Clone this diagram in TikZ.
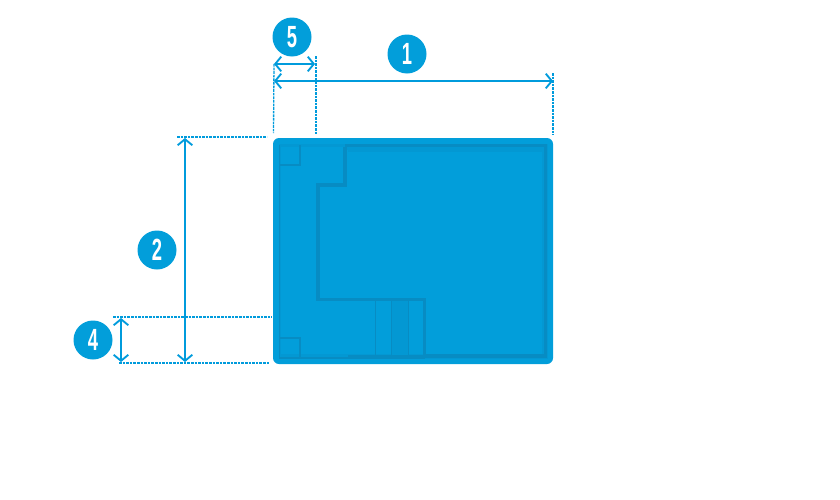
\documentclass[tikz,border=0pt]{standalone}
\usepackage{fontspec}
\setmainfont{Liberation Sans}
\usetikzlibrary{arrows.meta}
\definecolor{poolblue}{HTML}{029EDA}
\definecolor{pooldark}{HTML}{078CC3}
\definecolor{poolmid}{HTML}{0398D3}
\definecolor{dimblue}{HTML}{009BDC}
\tikzset{
  badge/.style={circle, fill=poolblue, minimum size=29.25pt, inner sep=0pt, text=white, font=\bfseries\fontsize{23}{23}\selectfont},
  dimline/.style={draw=dimblue, line width=1pt, {Straight Barb[length=4.5pt,width=11pt,line width=1.4pt]}-{Straight Barb[length=4.5pt,width=11pt,line width=1.4pt]}},
  guide/.style={draw=dimblue, line width=1pt, dash pattern=on 2pt off 0.7pt},
  poolline/.style={draw=pooldark, line width=2.4pt}
}
\newcommand{\digit}[1]{\scalebox{0.6}[1]{#1}}
\begin{document}
\begin{tikzpicture}[x=0.75pt,y=-0.75pt]
    \useasboundingbox (0,0) rectangle (840,500);

    % pool shell
    \fill [poolblue, rounded corners=4.5pt] (273,138) rectangle (553,364);
    \fill [poolmid] (279,144) rectangle (548,359);
    \fill [poolblue] (281,150) rectangle (542,354);
    \draw [poolline, line width=1.4pt] (279.5,145) -- (279.5,358) -- (425,358);
    \draw [poolline] (425,356) -- (545.5,356) -- (545.5,145.5) -- (345,145.5);
    \draw [draw=poolmid, line width=2pt] (280,145) -- (343,145);

    % basin edge
    \fill [poolblue] (281,147) -- (343,147) -- (343,183) -- (316,183) -- (316,298) -- (424,298) -- (424,353) -- (281,353) -- cycle;
    \draw [poolline] (345,147) -- (345,185) -- (318,185) -- (318,299.5) -- (424.5,299.5) -- (424.5,356);
    \draw [draw=poolmid, line width=1.5pt] (348,151) -- (542,151);

    % stairs
    \fill [poolmid] (392,301) rectangle (408,355);
    \foreach \x in {375.5,391.5,408.5}
      \draw [draw=pooldark, line width=1.3pt] (\x,300) -- (\x,356);
    \draw [draw=pooldark, line width=1.3pt] (348,356) -- (425,356);

    % corner seats
    \draw [draw=pooldark, line width=1.5pt] (279,165) -- (299.5,165) -- (299.5,145);
    \draw [draw=pooldark, line width=1.5pt] (279,338) -- (299.5,338) -- (299.5,358);

    % bubbles
    \node [badge] (n5) at (292,37)  {\digit{5}};
    \node [badge] (n1) at (407,54)  {\digit{1}};
    \node [badge] (n2) at (157,250) {\digit{2}};
    \node [badge] (n4) at (93,340)  {\digit{4}};

    % dimension ends
    \coordinate (a5) at (274,64);
    \coordinate (b5) at (315,64);
    \coordinate (a1) at (274,81);
    \coordinate (b1) at (553,81);
    \coordinate (a2) at (185,138);
    \coordinate (b2) at (185,362);
    \coordinate (a4) at (121,318);
    \coordinate (b4) at (121,362);

    \draw [dimline] (a5) -- (b5);
    \draw [dimline] (a1) -- (b1);
    \draw [dimline] (a2) -- (b2);
    \draw [dimline] (a4) -- (b4);

    \draw [guide] (a5) -- (273.5,133);
    \draw [guide] (316,56) -- (316,135);
    \draw [guide] (553,73) -- (553,135);
    \draw [guide] (177,137) -- (267,137);
    \draw [guide] (113,317) -- (272,317);
    \draw [guide] (119,363) -- (269,363);
  \end{tikzpicture}
\end{document}
